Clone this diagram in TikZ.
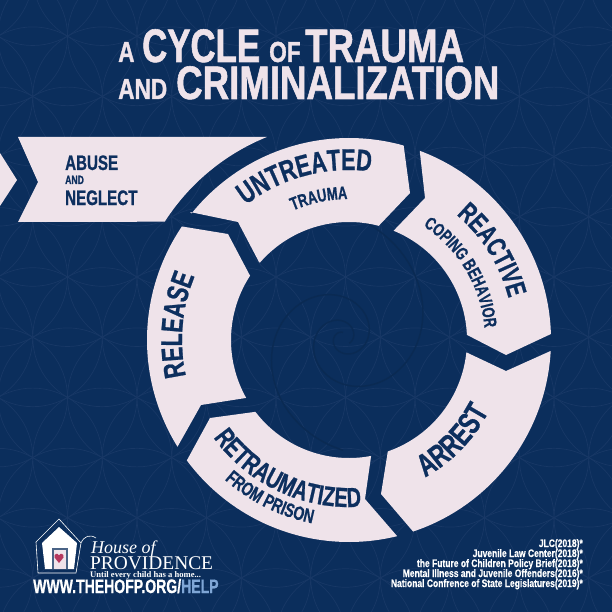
\documentclass[tikz,border=0pt]{standalone}
\usepackage{fontspec}
\usetikzlibrary{decorations.text}
\setmainfont{Liberation Sans}
\newfontfamily\cond{Liberation Sans}[FakeStretch=0.72,FakeBold=0.8]
\newfontfamily\condr{Liberation Sans}[FakeStretch=0.78,FakeBold=0.4]
\newfontfamily\condt{Liberation Sans}[FakeStretch=0.78,FakeBold=1.2]
\newfontfamily\condc{Liberation Sans}[FakeStretch=0.74,FakeBold=1.2]
\newfontfamily\serifr{Liberation Serif}
\definecolor{navy}{HTML}{0B2E5C}
\definecolor{petal}{HTML}{EFE3EA}
\definecolor{ink}{HTML}{0D2F5E}
\definecolor{patline}{HTML}{183866}
\definecolor{swirl}{HTML}{0A2A53}
\definecolor{helpblue}{HTML}{7FA6D6}
\definecolor{heart}{HTML}{B5385F}
\newcommand{\ringarc}[3]{plot[domain=#2:#3,samples=60] ({349+#1*cos(\x)},{340+#1*sin(\x)})}
\newcommand{\toarc}[3]{-- plot[domain=#2:#3,samples=60] ({349+#1*cos(\x)},{340+#1*sin(\x)})}
\newcommand{\curvebig}{\cond\bfseries\fontsize{30}{30}\selectfont\color{ink}}
\newcommand{\curvearr}{\cond\bfseries\fontsize{31.5}{32}\selectfont\color{ink}}
\newcommand{\curvemid}{\cond\bfseries\fontsize{27.5}{28}\selectfont\color{ink}}
\newcommand{\curvesmall}{\cond\bfseries\fontsize{18}{18}\selectfont\color{ink}}
\newcommand{\curvefrom}{\cond\bfseries\fontsize{19.5}{20}\selectfont\color{ink}}
\newcommand{\fsz}[1]{\fontsize{#1}{#1}\selectfont}
\tikzset{
  ringpiece/.style={fill=petal},
  lbl/.style={inner sep=0pt,anchor=base west,font=\cond\bfseries,text=ink},
  titlebig/.style={inner sep=0pt,anchor=base west,font=\condt\bfseries\fsz{47},text=petal},
  titlesmall/.style={inner sep=0pt,anchor=base west,font=\condt\bfseries\fsz{29},text=petal},
  refline/.style={inner sep=0pt,anchor=base east,font=\condr\bfseries\fsz{10.9},text=white},
  logoline/.style={draw=white,line width=0.6pt},
  swirlline/.style={draw=swirl,line width=1.5pt}
}
\begin{document}
\begin{tikzpicture}[x=1pt,y=-1pt]
\fill[navy] (0,0) rectangle (612,612);
\useasboundingbox (0,0) rectangle (612,612);
% flower-of-life pattern
\begin{scope}
\clip (0,0) rectangle (612,612);
\foreach \k in {-5,...,6}{
  \foreach \i in {-3,...,8}{
    \pgfmathsetmacro{\yy}{277+60.2*\k}
    \pgfmathsetmacro{\xx}{137+69.5*\i+34.75*mod(abs(\k),2)}
    \draw[patline,line width=0.7pt]
      plot[domain=0:360,samples=73] ({\xx+69.5*cos(\x)},{\yy+69.5*sin(\x)});
  }
}
\end{scope}
% faint spiral in the centre
\draw[swirlline] plot[domain=-270:270,samples=120] ({343+25*1.65^(\x/90)*cos(\x)},{338-25*1.65^(\x/90)*sin(\x)});
\draw[swirlline] plot[domain=-400:90,samples=120] ({343+76*1.65^(\x/90)*cos(\x)},{338-76*1.65^(\x/90)*sin(\x)});
% banner
\fill[ringpiece] (0,153) -- (17,180) -- (0,206) -- cycle;
\fill[ringpiece] (18,137) \toarc{219}{-112}{-147.3} -- (18,222) -- (38,182) -- cycle;
% ring
\fill[ringpiece] (190,212) -- (238,222) -- (259,262) \toarc{118}{-139.1}{-75.4} -- (410,193) \toarc{202}{-74.3}{-141.2} -- cycle;
\fill[ringpiece] \ringarc{202}{-69.5}{-1.7} -- (506,355) \toarc{118}{-2.5}{-67.8} -- (425,198) -- cycle;
\fill[ringpiece] \ringarc{202}{3.1}{71.5} -- (381,494) \toarc{118}{70.8}{6} -- (506,371) -- cycle;
\fill[ringpiece] \ringarc{202}{76.2}{143.4} -- (210,418) \toarc{118}{142.5}{79.2} -- (365,499) -- cycle;
\fill[ringpiece] \ringarc{202}{148.1}{214.2} -- (228,234) \toarc{118}{213}{150.6} -- (201,405) -- cycle;
% title
\node[titlesmall] (tA) at (118,62) {A};
\node[titlebig,font=\condc\bfseries\fsz{47}] (tCycle) at (142,62) {CYCLE};
\node[titlesmall] (tOf) at (269,62) {OF};
\node[titlebig] (tTrauma) at (305,62) {TRAUMA};
\node[titlesmall] (tAnd) at (118,99) {AND};
\node[titlebig] (tCrim) at (176,99) {CRIMINALIZATION};
% banner text
\node[lbl,font=\cond\bfseries\fsz{21}] (abuse) at (65,170) {ABUSE};
\node[lbl,font=\cond\bfseries\fsz{12}] (and) at (65,184) {AND};
\node[lbl,font=\cond\bfseries\fsz{21}] (neglect) at (65,205) {NEGLECT};
% curved labels
\path[decorate,decoration={text along path,text align=center,text={|\curvebig|UNTREATED}}] \ringarc{170}{-150}{-60};
\path[decorate,decoration={text along path,text align=center,text={|\curvesmall|TRAUMA}}] \ringarc{141}{-147}{-57};
\path[decorate,decoration={text along path,text align=center,text={|\curvemid|REACTIVE}}] \ringarc{165}{-77}{13};
\path[decorate,decoration={text along path,text align=center,text={|\curvesmall|COPING BEHAVIOR}}] \ringarc{136}{-76}{14};
\path[decorate,decoration={text along path,text align=center,text={|\curvearr|ARREST}}] \ringarc{157}{89}{-1};
\path[decorate,decoration={text along path,text align=center,text={|\curvemid|RETRAUMATIZED}}] \ringarc{167}{160}{70};
\path[decorate,decoration={text along path,text align=center,text={|\curvefrom|FROM PRISON}}] \ringarc{187}{161}{72};
\path[decorate,decoration={text along path,text align=center,text={|\curvebig|RELEASE}}] \ringarc{167}{140}{230};
% logo
\draw[logoline,line join=round] (81,543) -- (59,519) -- (36,542) -- (38,573) -- (76,573) -- (81,543)
  .. controls (84,536) and (90,534) .. (96,538);
\fill[white] (59,527) -- (42,543) -- (45,569) -- (74,569) -- (77,543) -- cycle;
\fill[ink!75!white] (52,548) rectangle (68,569);
\fill[petal] (54,550) rectangle (66,569);
\fill[heart] (59,563) -- (54.5,557.5) .. controls (53.5,553.5) and (58,552.5) .. (59,555.5)
  .. controls (60,552.5) and (64.5,553.5) .. (63.5,557.5) -- cycle;
\node[inner sep=0pt,anchor=base west,font=\serifr\itshape\fsz{18},text=white] (house) at (91,553) {House of};
\node[inner sep=0pt,anchor=base west,font=\serifr\fsz{19.4},text=white] (prov) at (90,569) {PROVIDENCE};
\node[inner sep=0pt,anchor=base west,font=\serifr\bfseries\fsz{8.6},text=white] (until) at (90,577.5) {Until every child has a home...};
\node[inner sep=0pt,anchor=base west,font=\cond\bfseries\fsz{19.5},text=white] (url) at (33,593) {WWW.THEHOFP.ORG/\textcolor{helpblue}{HELP}};
% references
\node[refline] (r1) at (583,547) {JLC(2018)*};
\node[refline] (r2) at (583,557) {Juvenile Law Center(2018)*};
\node[refline] (r3) at (583,567) {the Future of Children Policy Brief(2018)*};
\node[refline] (r4) at (583,577) {Mental Illness and Juvenile Offenders(2016)*};
\node[refline] (r5) at (583,587) {National Confrence of State Legislatures(2019)*};
\end{tikzpicture}
\end{document}
